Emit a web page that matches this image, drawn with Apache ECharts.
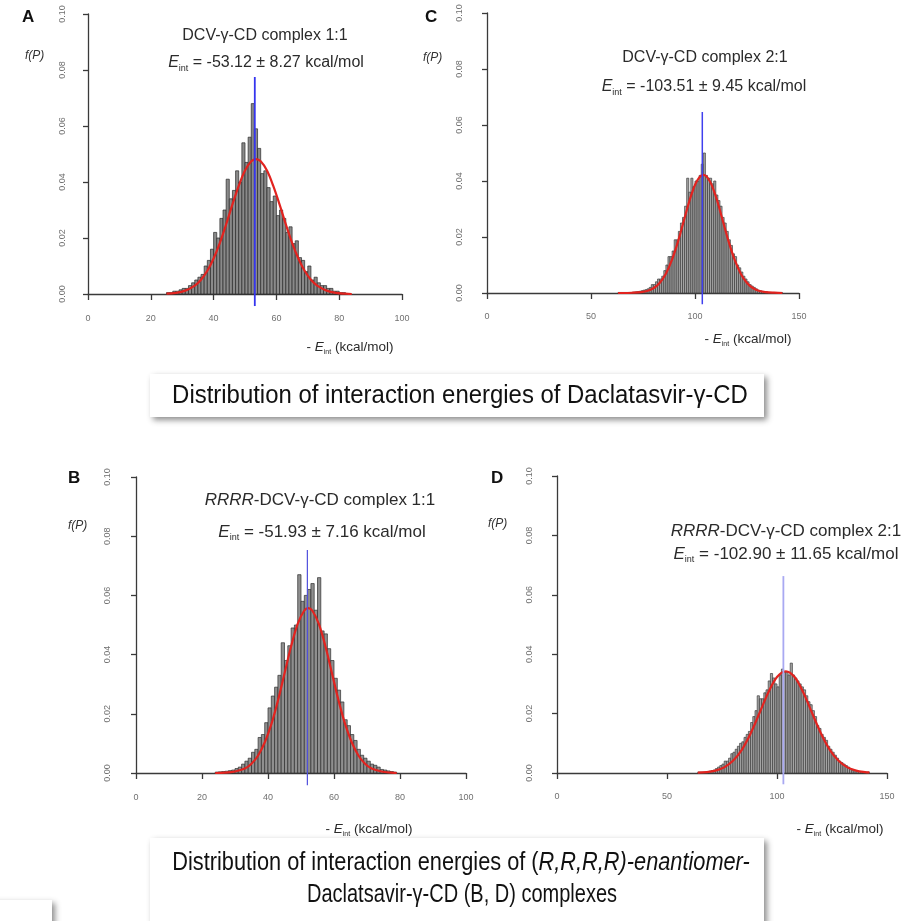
<!DOCTYPE html>
<html><head><meta charset="utf-8">
<script src="https://cdn.jsdelivr.net/npm/echarts@6/dist/echarts.min.js"></script>
<style>html,body{margin:0;padding:0;background:#fff}#c{width:922px;height:921px}</style>
</head><body><div id="c"></div>
<script>
// ---------------- data ----------------
// histogram bins: first bin left edge, bin width, densities
const A_BIN_START = 25, A_BIN_WIDTH = 1;
const A_HEIGHTS = [0.0005,0.0005,0.001,0.001,0.0015,0.002,0.002,0.003,0.004,0.005,0.006,0.007,0.010,0.012,0.016,0.022,0.020,0.027,0.030,0.041,0.034,0.037,0.044,0.040,0.054,0.047,0.056,0.068,0.059,0.052,0.043,0.044,0.038,0.033,0.035,0.028,0.030,0.027,0.022,0.024,0.018,0.019,0.013,0.012,0.008,0.010,0.005,0.006,0.004,0.003,0.003,0.002,0.002,0.001,0.001,0.0005,0.0005];
const C_BIN_START = 63, C_BIN_WIDTH = 1;
const C_HEIGHTS = [0.0002,0.0002,0.0002,0.0002,0.0002,0.0002,0.0002,0.0003,0.0004,0.0005,0.0006,0.0008,0.001,0.0012,0.0015,0.002,0.003,0.003,0.004,0.005,0.005,0.006,0.008,0.010,0.013,0.013,0.015,0.019,0.019,0.022,0.025,0.027,0.031,0.041,0.036,0.041,0.038,0.040,0.040,0.042,0.046,0.050,0.042,0.041,0.041,0.039,0.040,0.035,0.033,0.031,0.027,0.025,0.022,0.019,0.017,0.014,0.013,0.010,0.009,0.0075,0.006,0.005,0.004,0.003,0.0025,0.002,0.0015,0.001,0.0008,0.0006,0.0005,0.0004,0.0002,0.0002,0.0002,0.0002,0.0002,0.0002,0.0002];
const B_BIN_START = 24, B_BIN_WIDTH = 1;
const B_HEIGHTS = [0.0003,0.0004,0.0005,0.0006,0.0008,0.001,0.0015,0.002,0.003,0.004,0.005,0.007,0.008,0.012,0.013,0.017,0.022,0.026,0.029,0.033,0.044,0.038,0.043,0.049,0.050,0.067,0.058,0.060,0.062,0.064,0.055,0.066,0.048,0.047,0.042,0.038,0.032,0.028,0.024,0.018,0.016,0.013,0.011,0.008,0.006,0.005,0.004,0.003,0.0026,0.002,0.0012,0.001,0.0007,0.0005,0.0003];
const D_BIN_START = 64, D_BIN_WIDTH = 1;
const D_HEIGHTS = [0.0003,0.0003,0.0003,0.0003,0.0005,0.0006,0.0008,0.001,0.0015,0.002,0.0025,0.003,0.004,0.004,0.005,0.0065,0.007,0.008,0.009,0.010,0.0105,0.012,0.013,0.014,0.017,0.019,0.021,0.026,0.025,0.025,0.027,0.028,0.031,0.0335,0.032,0.030,0.029,0.033,0.035,0.034,0.034,0.033,0.037,0.033,0.032,0.031,0.030,0.029,0.028,0.026,0.024,0.023,0.021,0.019,0.016,0.015,0.013,0.012,0.011,0.009,0.008,0.007,0.006,0.005,0.004,0.0035,0.003,0.0025,0.002,0.0015,0.001,0.0008,0.0006,0.0005,0.0003,0.0003,0.0003,0.0003];

// fitted density curves (red): [x, f(P)]
const A_CURVE = [[25,0.0001],[28,0.0004],[31,0.0012],[34,0.0030],[36,0.0051],[38,0.0083],[40,0.0127],[42,0.0183],[44,0.0249],[46,0.0320],[48,0.0386],[50,0.0441],[52,0.0474],[53.5,0.0482],[55,0.0474],[57,0.0441],[59,0.0386],[61,0.0320],[63,0.0249],[65,0.0183],[67,0.0127],[69,0.0083],[71,0.0051],[73,0.0030],[76,0.0012],[79,0.0004],[82,0.0001],[84,0.0000]];
const C_CURVE = [[63,0.0000],[66,0.0000],[70,0.0001],[74,0.0003],[77,0.0007],[80,0.0017],[83,0.0036],[86,0.0069],[89,0.0120],[92,0.0188],[95,0.0268],[98,0.0345],[101,0.0401],[104,0.0422],[107,0.0401],[110,0.0345],[113,0.0268],[116,0.0188],[119,0.0120],[122,0.0069],[125,0.0036],[128,0.0017],[131,0.0007],[134,0.0003],[138,0.0001],[142,0.0000]];
const B_CURVE = [[24,0.0000],[27,0.0001],[30,0.0005],[33,0.0015],[35,0.0031],[37,0.0059],[39,0.0103],[41,0.0164],[43,0.0244],[45,0.0336],[47,0.0428],[49,0.0504],[51,0.0549],[52.2,0.0557],[53.4,0.0549],[55.4,0.0504],[57.4,0.0428],[59.4,0.0336],[61.4,0.0244],[63.4,0.0164],[65.4,0.0103],[67.4,0.0059],[69.4,0.0031],[71.4,0.0015],[74.4,0.0005],[77.4,0.0001],[79,0.0000]];
const D_CURVE = [[64,0.0001],[68,0.0003],[72,0.0008],[76,0.0019],[80,0.0041],[84,0.0078],[88,0.0133],[92,0.0201],[96,0.0270],[100,0.0323],[104,0.0342],[108,0.0323],[112,0.0270],[116,0.0201],[120,0.0133],[124,0.0078],[128,0.0041],[132,0.0019],[136,0.0008],[140,0.0003],[142,0.0002]];

// mean markers (blue): x = mean, top height
const A_MEAN = 53.12, A_MEAN_TOP = 0.0775;
const C_MEAN = 103.51, C_MEAN_TOP = 0.0646;
const B_MEAN = 51.93, B_MEAN_TOP = 0.0753;
const D_MEAN = 102.90, D_MEAN_TOP = 0.0663;

// texts
const A_TITLE = 'DCV-γ-CD complex 1:1', A_EINT = ' = -53.12 ± 8.27 kcal/mol';
const C_TITLE = 'DCV-γ-CD complex 2:1', C_EINT = ' = -103.51 ± 9.45 kcal/mol';
const B_TITLE_PRE = 'RRRR', B_TITLE = '-DCV-γ-CD complex 1:1', B_EINT = ' = -51.93 ± 7.16 kcal/mol';
const D_TITLE_PRE = 'RRRR', D_TITLE = '-DCV-γ-CD complex 2:1', D_EINT = ' = -102.90 ± 11.65 kcal/mol';
const X_TICKS_100 = [0, 20, 40, 60, 80, 100];
const X_TICKS_150 = [0, 50, 100, 150];
const Y_TICKS = [0.00, 0.02, 0.04, 0.06, 0.08, 0.10];
const CAPTION1 = 'Distribution of interaction energies of Daclatasvir-γ-CD';
const CAPTION2_A = 'Distribution of interaction energies of (';
const CAPTION2_B = 'R,R,R,R)-enantiomer-';
const CAPTION2_C = 'Daclatsavir-γ-CD (B, D) complexes';

// ---------------- chart ----------------
const FF = '"Liberation Sans", Arial, Helvetica, sans-serif';
function hist(start, w, hs) { return hs.map((h, i) => [start + i * w, start + (i + 1) * w, h]); }

function xAx(gi, ticks, offset) {
  return {gridIndex: gi, type: 'value', min: ticks[0], max: ticks[ticks.length - 1],
    interval: ticks[1] - ticks[0], offset: offset,
    axisLine: {show: true, lineStyle: {color: '#3a3a3a', width: 1.3}},
    axisTick: {show: true, length: 6, lineStyle: {color: '#3a3a3a', width: 1.3}},
    axisLabel: {fontSize: 9, color: '#707070', margin: 8, fontFamily: FF},
    splitLine: {show: false}};
}
function yAx(gi, offset) {
  return {gridIndex: gi, type: 'value', min: Y_TICKS[0], max: Y_TICKS[Y_TICKS.length - 1],
    interval: Y_TICKS[1] - Y_TICKS[0], offset: offset,
    axisLine: {show: true, lineStyle: {color: '#3a3a3a', width: 1.3}},
    axisTick: {show: true, length: 5, lineStyle: {color: '#3a3a3a', width: 1.3}},
    axisLabel: {fontSize: 9, color: '#707070', margin: 9, rotate: 90, fontFamily: FF,
      formatter: v => v.toFixed(2)},
    splitLine: {show: false}};
}
function histSeries(gi, data, fill, stroke) {
  return {type: 'custom', xAxisIndex: gi, yAxisIndex: gi, data: data, z: 1,
    encode: {x: [0, 1], y: 2},
    renderItem: function (params, api) {
      const p0 = api.coord([api.value(0), 0]);
      const p1 = api.coord([api.value(1), api.value(2)]);
      return {type: 'rect', shape: {x: p0[0], y: p1[1], width: p1[0] - p0[0], height: p0[1] - p1[1]},
        style: {fill: fill, stroke: stroke, lineWidth: 0.7}};
    }};
}
function curveSeries(gi, data) {
  return {type: 'line', xAxisIndex: gi, yAxisIndex: gi, data: data, smooth: 0.35,
    showSymbol: false, symbol: 'none', z: 3, silent: true,
    lineStyle: {color: '#e2231f', width: 2.2}};
}
function meanSeries(gi, mean, top, bottom, color, width) {
  return {type: 'line', xAxisIndex: gi, yAxisIndex: gi, data: [[mean, top], [mean, bottom]],
    showSymbol: false, symbol: 'none', clip: false, z: 4, silent: true,
    lineStyle: {color: color, width: width}};
}

const TXT = '#2b2b2b';
function richStyles(fs) {
  return {
    n: {fontSize: fs, fontFamily: FF, fill: TXT, lineHeight: fs + 4},
    i: {fontSize: fs, fontFamily: FF, fill: TXT, fontStyle: 'italic', lineHeight: fs + 4},
    s: {fontSize: Math.round(fs * 0.55), fontFamily: FF, fill: TXT, verticalAlign: 'bottom', lineHeight: fs + 4}
  };
}
function rtext(x, y, text, fs, align) {
  return {type: 'text', x: x, y: y, z: 10, silent: true,
    style: {text: text, rich: richStyles(fs), fontSize: fs, fontFamily: FF, fill: TXT,
      textAlign: align || 'center', textVerticalAlign: 'middle', verticalAlign: 'middle'}};
}
function plain(x, y, text, fs, weight, style, color) {
  return {type: 'text', x: x, y: y, z: 10, silent: true,
    style: {text: text, fontSize: fs, fontWeight: weight || 'normal', fontStyle: style || 'normal',
      fontFamily: FF, fill: color || '#111', textAlign: 'left', textVerticalAlign: 'middle', verticalAlign: 'middle'}};
}
function box(x, y, w, h) {
  return {type: 'rect', z: 5, silent: true, shape: {x: x, y: y, width: w, height: h},
    style: {fill: '#ffffff', shadowBlur: 6, shadowOffsetX: 3, shadowOffsetY: 3, shadowColor: 'rgba(0,0,0,0.45)'}};
}
const XT = '{n|- }{i|E}{s|int}{n| (kcal/mol)}';
const CAPF = '"Liberation Sans", Arial, sans-serif';
const CAPFS = 25;
function capText(x, y, text, sx) {
  return {type: 'text', x: x, y: y, z: 10, silent: true, scaleX: sx,
    style: {text: text, fontSize: CAPFS, fontFamily: CAPF, fill: '#111',
      rich: {n: {fontSize: CAPFS, fontFamily: CAPF, fill: '#111'}, i: {fontSize: CAPFS, fontFamily: CAPF, fill: '#111', fontStyle: 'italic'}},
      textAlign: 'center', textVerticalAlign: 'middle', verticalAlign: 'middle'}};
}

const option = {
  animation: false,
  backgroundColor: '#ffffff',
  grid: [
    {left: 88, top: 14, width: 314, height: 280},
    {left: 487, top: 13, width: 312, height: 280},
    {left: 136, top: 477, width: 330, height: 296},
    {left: 557, top: 476, width: 330, height: 297}
  ],
  xAxis: [xAx(0, X_TICKS_100, 12), xAx(1, X_TICKS_150, 11), xAx(2, X_TICKS_100, 12), xAx(3, X_TICKS_150, 11)],
  yAxis: [yAx(0, 12), yAx(1, 14), yAx(2, 15), yAx(3, 14)],
  series: [
    histSeries(0, hist(A_BIN_START, A_BIN_WIDTH, A_HEIGHTS), '#8a8a8a', '#2a2a2a'),
    histSeries(1, hist(C_BIN_START, C_BIN_WIDTH, C_HEIGHTS), '#a5a5a5', '#3c3c3c'),
    histSeries(2, hist(B_BIN_START, B_BIN_WIDTH, B_HEIGHTS), '#8f8f8f', '#2e2e2e'),
    histSeries(3, hist(D_BIN_START, D_BIN_WIDTH, D_HEIGHTS), '#a5a5a5', '#3c3c3c'),
    curveSeries(0, A_CURVE), curveSeries(1, C_CURVE), curveSeries(2, B_CURVE), curveSeries(3, D_CURVE),
    meanSeries(0, A_MEAN, A_MEAN_TOP, -0.0043, '#3535ee', 1.8),
    meanSeries(1, C_MEAN, C_MEAN_TOP, -0.0040, '#4040ee', 1.5),
    meanSeries(2, B_MEAN, B_MEAN_TOP, -0.0041, '#5050dd', 1.2),
    meanSeries(3, D_MEAN, D_MEAN_TOP, -0.0038, '#a9a9f2', 1.8)
  ],
  graphic: [
    // panel letters
    plain(22, 17, 'A', 17, 'bold'), plain(425, 17, 'C', 17, 'bold'),
    plain(68, 478, 'B', 17, 'bold'), plain(491, 478, 'D', 17, 'bold'),
    // y axis names
    plain(25, 56, 'f(P)', 12, 'normal', 'italic', '#333'), plain(423, 58, 'f(P)', 12, 'normal', 'italic', '#333'),
    plain(68, 526, 'f(P)', 12, 'normal', 'italic', '#333'), plain(488, 524, 'f(P)', 12, 'normal', 'italic', '#333'),
    // panel titles
    rtext(265, 36, '{n|' + A_TITLE + '}', 16), rtext(266, 63, '{i|E}{s|int}{n|' + A_EINT + '}', 16),
    rtext(705, 58, '{n|' + C_TITLE + '}', 16), rtext(704, 87, '{i|E}{s|int}{n|' + C_EINT + '}', 16),
    rtext(320, 500, '{i|' + B_TITLE_PRE + '}{n|' + B_TITLE + '}', 17), rtext(322, 532, '{i|E}{s|int}{n|' + B_EINT + '}', 17),
    rtext(786, 531, '{i|' + D_TITLE_PRE + '}{n|' + D_TITLE + '}', 17), rtext(786, 554, '{i|E}{s|int}{n|' + D_EINT + '}', 17),
    // x axis names
    rtext(350, 347, XT, 13.5), rtext(748, 339, XT, 13.5),
    rtext(369, 829, XT, 13.5), rtext(840, 829, XT, 13.5),
    // caption boxes
    box(150, 374, 614, 43), capText(460, 396, CAPTION1, 0.957),
    box(150, 838, 614, 110),
    capText(461, 863, '{n|' + CAPTION2_A + '}{i|' + CAPTION2_B + '}', 0.87),
    capText(462, 895, '{n|' + CAPTION2_C + '}', 0.8),
    box(-10, 900, 62, 40)
  ]
};
const chart = echarts.init(document.getElementById('c'));
chart.setOption(option);
</script></body></html>
